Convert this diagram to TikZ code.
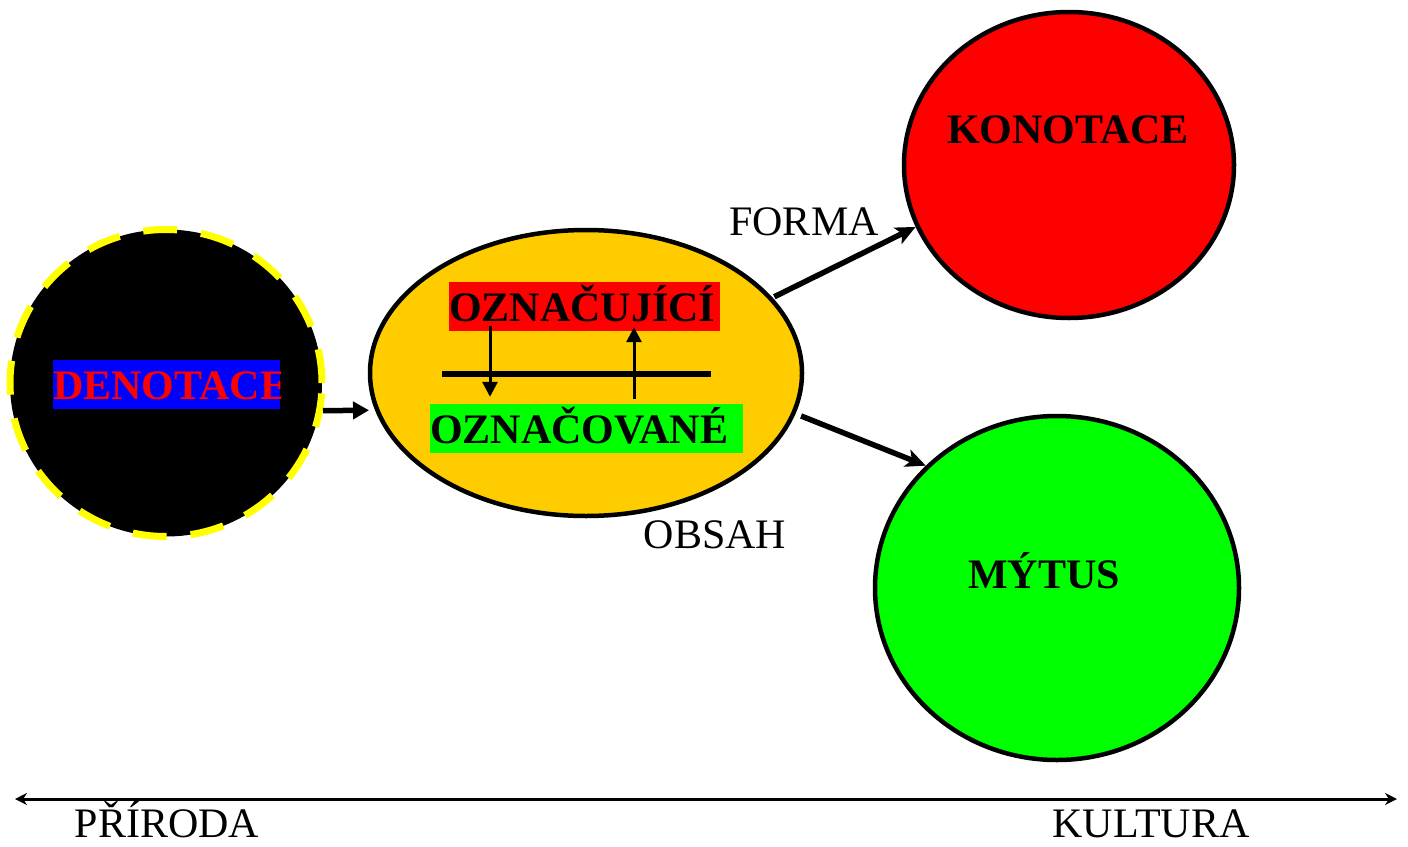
\documentclass[tikz,border=0pt]{standalone}
\usepackage{fontspec}
\setmainfont{Liberation Serif}
\usepackage{tikz}
\usetikzlibrary{arrows.meta, shapes.geometric}
\definecolor{mtred}{RGB}{255, 0, 0}
\definecolor{mtgreen}{RGB}{0, 255, 0}
\definecolor{mtblue}{RGB}{0, 0, 255}
\definecolor{mtyellow}{RGB}{255, 255, 0}
\definecolor{mtorange}{RGB}{255, 204, 0}

\begin{document}
\begin{tikzpicture}[x=1pt, y=-1pt,
  every node/.style={font=\fontsize{42}{50}\selectfont, inner sep=0pt},
  blob/.style={ellipse, draw=black, line width=4.5pt},
  boldlab/.style={font=\fontsize{42}{50}\selectfont\bfseries},
  signbox/.style={boldlab, align=left, text height=39pt, text depth=10pt},
  thickarrow/.style={line width=5.5pt, -{Stealth[length=20pt, width=18pt, inset=5pt]}},
  thinarrow/.style={line width=3pt, -{Triangle[length=15pt, width=15pt]}}]
  \useasboundingbox (0,0) rectangle (1408,846);

  % Denotace circle, label clipped to its blue box
  \node[blob, fill=black, draw=mtyellow, line width=7pt, dash pattern=on 34pt off 24pt,
    minimum width=312pt, minimum height=307pt] (den) at (166,383) {};
  \begin{scope}
    \clip (53,359) rectangle (280,409);
    \node[signbox, fill=mtblue, text=mtred, text width=227pt, anchor=base west]
      (denlabel) at (53,399) {\mbox{DENOTACE}};
  \end{scope}

  % Sign ellipse with its two parts
  \node[blob, fill=mtorange, minimum width=432pt, minimum height=286pt] (ell) at (586,373) {};
  \node[signbox, fill=mtred, text width=271pt, anchor=base west] (sig) at (449,321) {OZNAČUJÍCÍ};
  \node[signbox, fill=mtgreen, text width=313pt, anchor=base west] (sigd) at (430,443) {OZNAČOVANÉ};
  \draw[line width=5.5pt] (442,374) -- (711,374);
  \draw[thinarrow] ([xshift=41pt, yshift=5pt]sig.south west) -- ([xshift=60pt, yshift=7pt]sigd.north west);
  \draw[thinarrow] ([xshift=204pt, yshift=5pt]sigd.north west) -- ([xshift=185pt, yshift=4pt]sig.south west);

  % Konotace circle
  \node[blob, fill=mtred, minimum width=330pt, minimum height=306pt] (kon) at (1069,165) {};
  \node[boldlab, anchor=base] (konlabel) at (1068,143) {KONOTACE};

  % Mytus circle
  \node[blob, fill=mtgreen, minimum width=364pt, minimum height=344pt] (myt) at (1057,588) {};
  \node[boldlab, anchor=base] (mytlabel) at (1044,588) {MÝTUS};

  % Arrows between the shapes
  \draw[line width=5.5pt, -{Triangle[length=16pt, width=17pt]}, shorten >=6pt] (den.-10.5) -- (ell.190);
  \draw[thickarrow, shorten <=2pt] (ell.22) -- (kon.202);
  \draw[thickarrow, shorten <=6pt] (ell.-11) -- (myt.137);
  \node[anchor=base] (forma) at (804,235) {FORMA};
  \node[anchor=base] (obsah) at (715,548) {OBSAH};

  % Nature -- culture axis
  \coordinate (axl) at (15,799);
  \coordinate (axr) at (1397,799);
  \draw[line width=3pt, {Stealth[length=12pt, width=12pt]}-{Stealth[length=12pt, width=12pt]}] (axl) -- (axr);
  \node[anchor=base] (prir) at (167,837) {PŘÍRODA};
  \node[anchor=base] (kult) at (1151,837) {KULTURA};
\end{tikzpicture}
\end{document}
